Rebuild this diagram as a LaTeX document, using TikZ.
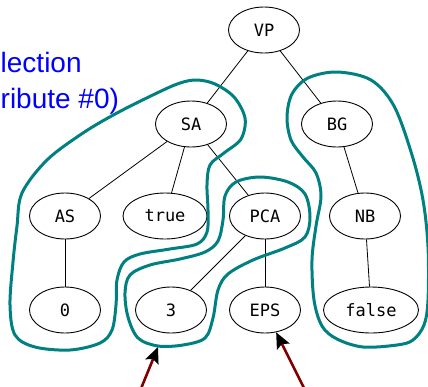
\documentclass[tikz,border=0pt]{standalone}
\usepackage{fontspec}
\setmainfont{Liberation Sans}
\newfontfamily\monof{DejaVu Sans Mono}
\usetikzlibrary{shapes.geometric,arrows.meta}
\definecolor{tealc}{RGB}{0,128,128}
\definecolor{arrred}{RGB}{128,0,0}
\tikzset{
  tnode/.style={ellipse, draw, line width=0.9pt, minimum width=71pt, minimum height=46pt, inner sep=0pt, font=\monof\fontsize{17}{20}\selectfont},
  edge/.style={line width=0.8pt},
  blob/.style={draw=tealc, line width=3pt},
  ptr/.style={draw=arrred, line width=2.6pt, -{Stealth[color=black, length=16pt, width=14pt, inset=3pt]}},
  note/.style={anchor=base west, inner sep=0pt, text=blue, font=\fontsize{28}{34}\selectfont}
}
\begin{document}
\begin{tikzpicture}[x=1pt, y=-1pt]
\useasboundingbox (0,0) rectangle (428,386);
\clip (0,0) rectangle (428,386);
% annotation text (cut at the left edge)
\node[note] (t1) at (0.5,72) {lection};
\node[note] (t2) at (0.5,108) {ribute \#0)};
% tree nodes
\node[tnode] (VP) at (264,30) {VP};
\node[tnode] (SA) at (191,124) {SA};
\node[tnode] (BG) at (337,124) {BG};
\node[tnode] (AS) at (65,216) {AS};
\node[tnode, minimum width=84pt] (true) at (165,216) {true};
\node[tnode] (PCA) at (265,216) {PCA};
\node[tnode] (NB) at (365,216) {NB};
\node[tnode] (zero) at (65,310) {0};
\node[tnode] (three) at (171,310) {3};
\node[tnode] (EPS) at (265,310) {EPS};
\node[tnode, minimum width=95pt] (false) at (371,310) {false};
% edges
\draw[edge] (VP) -- (SA);
\draw[edge] (VP) -- (BG);
\draw[edge] (SA) -- (AS);
\draw[edge] (SA) -- (true);
\draw[edge] (SA) -- (PCA);
\draw[edge] (BG) -- (NB);
\draw[edge] (AS) -- (zero);
\draw[edge] (PCA) -- (three);
\draw[edge] (PCA) -- (EPS);
\draw[edge] (NB) -- (false);
% teal outlines
\draw[blob] plot[smooth cycle, tension=0.55] coordinates {
  (197,80) (215,84) (234,97) (245,118) (241,139) (224,153) (210,165)
  (207,185) (208,210) (207,232) (197,244) (170,249) (140,254) (124,262)
  (117,280) (116,305) (112,330) (100,343) (70,350) (35,347) (15,335)
  (10,305) (13,262) (17,226) (22,193) (47,160) (83,133) (117,113) (157,93) (180,83)};
\draw[blob] plot[smooth cycle, tension=0.55] coordinates {
  (260,177) (288,182) (305,194) (310,217) (305,237) (285,248) (253,260)
  (228,274) (218,290) (213,318) (205,338) (183,345) (158,346) (138,338)
  (128,317) (125,293) (130,275) (150,265) (180,259) (205,252) (218,241)
  (223,220) (225,196) (236,182)};
\draw[blob] plot[smooth cycle, tension=0.55] coordinates {
  (337,72) (371,80) (394,106) (412,155) (423,200) (428,247) (428,300)
  (424,325) (413,340) (397,345) (363,347) (337,339) (322,326) (314,300)
  (312,260) (316,226) (321,196) (316,173) (303,157) (291,140) (287,117)
  (292,94) (308,78)};
% pointer arrows
\coordinate (tip3) at (158,347);
\coordinate (tail3) at (138.8,394);
\coordinate (tailE) at (307,394);
\draw[ptr] (tail3) -- (tip3);
\draw[ptr] (tailE) -- (EPS);
\end{tikzpicture}
\end{document}
